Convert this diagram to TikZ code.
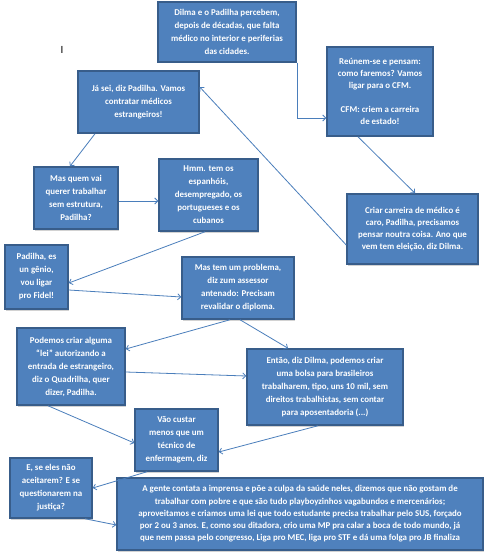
\documentclass[tikz,border=0pt]{standalone}
\usepackage{fontspec}
\setmainfont{Carlito}
\usetikzlibrary{arrows.meta,shadows}
\definecolor{boxfill}{HTML}{4F81BD}
\definecolor{boxline}{HTML}{385D8A}
\definecolor{conncol}{HTML}{4A7EBB}
\tikzset{
  box/.style={draw=boxline, line width=1.5pt, fill=boxfill, text=white,
    align=center, inner sep=0pt,
    font=\fontsize{8.9}{13}\selectfont\bfseries,
    drop shadow={opacity=0.35, shadow xshift=1pt, shadow yshift=-1.5pt}},
  conn/.style={draw=conncol, line width=0.8pt, -{Straight Barb[length=3pt,width=6pt]}}
}
\begin{document}
\begin{tikzpicture}[x=1pt,y=-1pt]
\useasboundingbox (0,0) rectangle (485,556);
\fill[white] (0,0) rectangle (485,556);
\node[font=\fontsize{11}{11}\selectfont] (cur) at (62,50) {I};

\node[box, minimum width=138pt, minimum height=60pt] (A) at (227,32)
  {Dilma  e o Padilha  percebem,\\depois de décadas, que falta\\médico  no interior e periferias\\das cidades.};
\node[box, minimum width=106pt, minimum height=89pt, font=\fontsize{8.9}{12}\selectfont\bfseries] (B) at (380,91.5)
  {Reúnem-se e pensam:\\como faremos? Vamos\\ligar  para  o CFM.\\[12pt]CFM: criem a carreira\\de estado!};
\node[box, minimum width=121pt, minimum height=62pt] (C) at (138.5,102)
  {Já sei, diz Padilha.  Vamos\\contratar  médicos\\estrangeiros!};
\node[box, minimum width=84pt, minimum height=62pt] (D) at (76,198)
  {Mas quem vai\\querer trabalhar\\sem estrutura,\\Padilha?};
\node[box, minimum width=99pt, minimum height=72pt] (E) at (208.5,195)
  {Hmm.  tem os\\espanhóis,\\desempregado, os\\portugueses e os\\cubanos};
\node[box, minimum width=131pt, minimum height=70pt, font=\fontsize{8.9}{12}\selectfont\bfseries] (F) at (412.5,229)
  {Criar  carreira  de médico é\\caro, Padilha,  precisamos\\pensar noutra  coisa. Ano que\\vem tem eleição, diz Dilma.};
\node[box, minimum width=63pt, minimum height=64pt] (G) at (36.5,277)
  {Padilha,  es\\un gênio,\\vou ligar\\pro Fidel!};
\node[box, minimum width=112pt, minimum height=62pt] (H) at (238,288)
  {Mas tem um problema,\\diz zum assessor\\antenado:  Precisam\\revalidar  o diploma.};
\node[box, minimum width=108pt, minimum height=77pt] (I) at (71,366.5)
  {Podemos criar  alguma\\“lei” autorizando  a\\entrada  de estrangeiro,\\diz o Quadrilha,  quer\\dizer, Padilha.};
\node[box, minimum width=156pt, minimum height=76pt] (J) at (325,387)
  {Então,  diz Dilma,  podemos criar\\uma bolsa para  brasileiros\\trabalharem,  tipo, uns 10 mil, sem\\direitos trabalhistas,  sem contar\\para  aposentadoria  (...)};
\node[box, minimum width=83pt, minimum height=62pt] (K) at (176.5,440)
  {Vão custar\\menos que um\\técnico de\\enfermagem,  diz};
\node[box, minimum width=82pt, minimum height=60pt] (L) at (51,488)
  {E, se eles não\\aceitarem?  E se\\questionarem  na\\justiça?};
\node[box, minimum width=366pt, minimum height=72pt, font=\fontsize{8.9}{12.2}\selectfont\bfseries] (M) at (300,514)
  {A gente contata  a imprensa  e põe a culpa da saúde neles, dizemos que não gostam  de\\
   trabalhar  com pobre e que são tudo playboyzinhos  vagabundos  e mercenários;\\
   aproveitamos  e criamos uma lei que todo estudante precisa trabalhar  pelo SUS, forçado\\
   por 2 ou 3 anos. E, como sou ditadora,  crio  uma  MP pra calar  a boca de todo mundo, já\\
   que nem passa  pelo congresso, Liga  pro MEC, liga  pro STF  e dá  uma folga pro JB  finaliza};

\draw[conn] ([xshift=1pt]A.south east) |- ([yshift=-26.5pt]B.west);
\draw[conn] ([xshift=-22pt]B.south) -- ([xshift=2.5pt]F.north);
\draw[conn] ([yshift=-16pt]F.west) -- ([yshift=15pt]C.east);
\draw[conn] ([xshift=-43.5pt]C.south) -- ([xshift=-6pt]D.north);
\draw[conn] ([yshift=-3pt]D.east) -- ([yshift=-3pt]D.east -| E.west);
\draw[conn] ([xshift=-3.5pt]E.south) -- ([yshift=-6pt]G.east);
\draw[conn] ([yshift=-13pt]G.east) -- ([yshift=-9pt]H.west);
\draw[conn] ([xshift=-8pt]H.south) -- ([yshift=17.5pt]I.east);
\draw[conn] ([xshift=2pt]H.south) -- ([xshift=-37pt]J.north);
\draw[conn] ([yshift=-5.5pt]I.east) -- ([yshift=11pt]J.west);
\draw[conn] ([xshift=-23pt]I.south) -- ([yshift=-3pt]K.west);
\draw[conn] ([xshift=-7pt]J.south) -- ([yshift=-12pt]K.east);
\draw[conn] ([xshift=-29.5pt]K.south) -- (L.east);
\draw[conn] ([xshift=34pt]L.south) -- ([yshift=-11pt]M.west);
\end{tikzpicture}
\end{document}
